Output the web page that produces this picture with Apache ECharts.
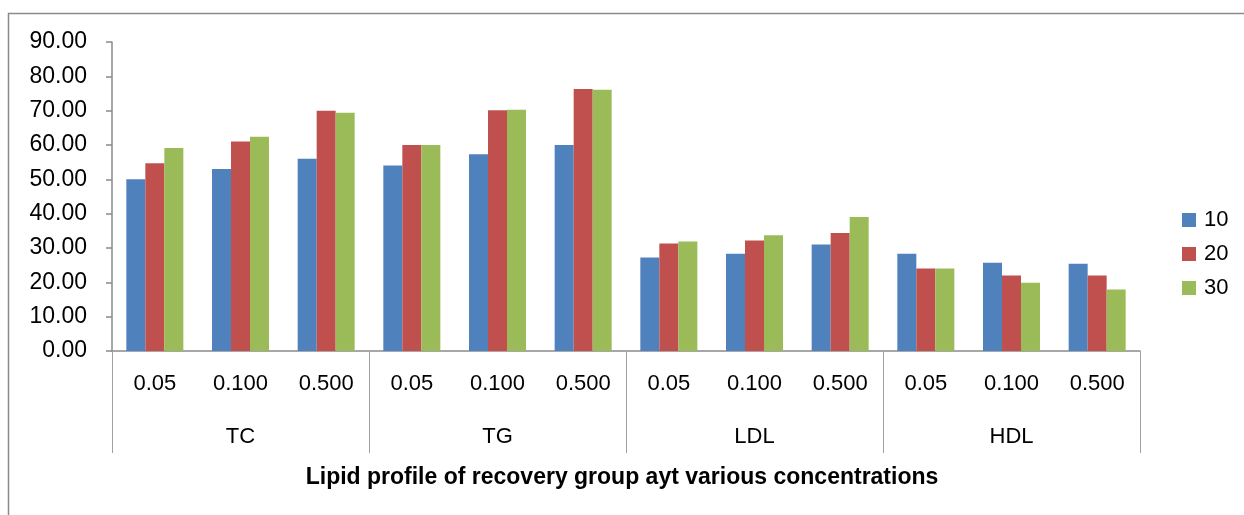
<!DOCTYPE html>
<html>
<head>
<meta charset="utf-8">
<script src="https://cdn.jsdelivr.net/npm/echarts@6/dist/echarts.min.js"></script>
<style>html,body{margin:0;padding:0;background:#fff}#c{width:1244px;height:515px}</style>
</head>
<body>
<div id="c"></div>
<script>
const subCategories = ['0.05','0.100','0.500','0.05','0.100','0.500','0.05','0.100','0.500','0.05','0.100','0.500'];
const groups = ['TC','TG','LDL','HDL'];
const seriesNames = ['10','20','30'];
const values10 = [50.0, 53.0, 56.0, 54.0, 57.3, 60.0, 27.2, 28.3, 31.0, 28.3, 25.7, 25.4];
const values20 = [54.7, 61.0, 70.0, 60.0, 70.1, 76.3, 31.3, 32.2, 34.4, 24.0, 22.0, 22.0];
const values30 = [59.1, 62.4, 69.4, 60.0, 70.3, 76.1, 31.9, 33.7, 39.0, 24.0, 19.9, 17.9];
const yTicks = {min: 0, max: 90, interval: 10};
const title = 'Lipid profile of recovery group ayt various concentrations';

const colors = ['#4F81BD', '#C0504D', '#9BBB59'];
const font = "'Liberation Sans', 'DejaVu Sans', sans-serif";
const axisGray = '#8a8a8a';

const chart = echarts.init(document.getElementById('c'), null, {renderer: 'canvas'});
const allValues = [values10, values20, values30];
chart.setOption({
  animation: false,
  color: colors,
  textStyle: {fontFamily: font},
  grid: {left: 112, right: 104, top: 42, bottom: 164, containLabel: false},
  title: {
    text: title,
    left: 'center',
    top: 461,
    textStyle: {fontFamily: font, fontSize: 23, fontWeight: 'bold', color: '#000'}
  },
  legend: {
    orient: 'vertical',
    left: 1182,
    top: 208,
    padding: 0,
    icon: 'rect',
    itemWidth: 14,
    itemHeight: 14,
    itemGap: 10,
    textStyle: {fontFamily: font, fontSize: 22, color: '#000', lineHeight: 24, padding: [0, 0, 0, 3]},
    data: seriesNames
  },
  xAxis: [
    {
      type: 'category',
      data: subCategories,
      position: 'bottom',
      axisLine: {lineStyle: {color: axisGray, width: 1.5}},
      axisTick: {show: false},
      axisLabel: {interval: 0, margin: 22, fontFamily: font, fontSize: 22, color: '#000'}
    },
    {
      type: 'category',
      data: groups,
      position: 'bottom',
      axisLine: {show: false},
      axisTick: {show: true, length: 102, interval: 0, lineStyle: {color: '#a0a0a0', width: 1}},
      axisLabel: {interval: 0, margin: 75, fontFamily: font, fontSize: 22, color: '#000'}
    }
  ],
  yAxis: {
    type: 'value',
    min: yTicks.min,
    max: yTicks.max,
    interval: yTicks.interval,
    splitLine: {show: false},
    axisLine: {show: true, lineStyle: {color: axisGray, width: 1.5}},
    axisTick: {show: true, length: 6, lineStyle: {color: axisGray, width: 1.5}},
    axisLabel: {margin: 25, fontFamily: font, fontSize: 23, color: '#000', formatter: v => v.toFixed(2)}
  },
  series: seriesNames.map((n, i) => ({
    name: n,
    type: 'bar',
    xAxisIndex: 0,
    data: allValues[i],
    barWidth: 19,
    barGap: '0%',
    itemStyle: {color: colors[i]}
  })),
  graphic: [{
    type: 'polyline',
    silent: true,
    shape: {points: [[8.5, 530], [8.5, 13.5], [1260, 13.5]]},
    style: {stroke: '#8a8a8a', lineWidth: 1.5, fill: null}
  }]
});
</script>
</body>
</html>
